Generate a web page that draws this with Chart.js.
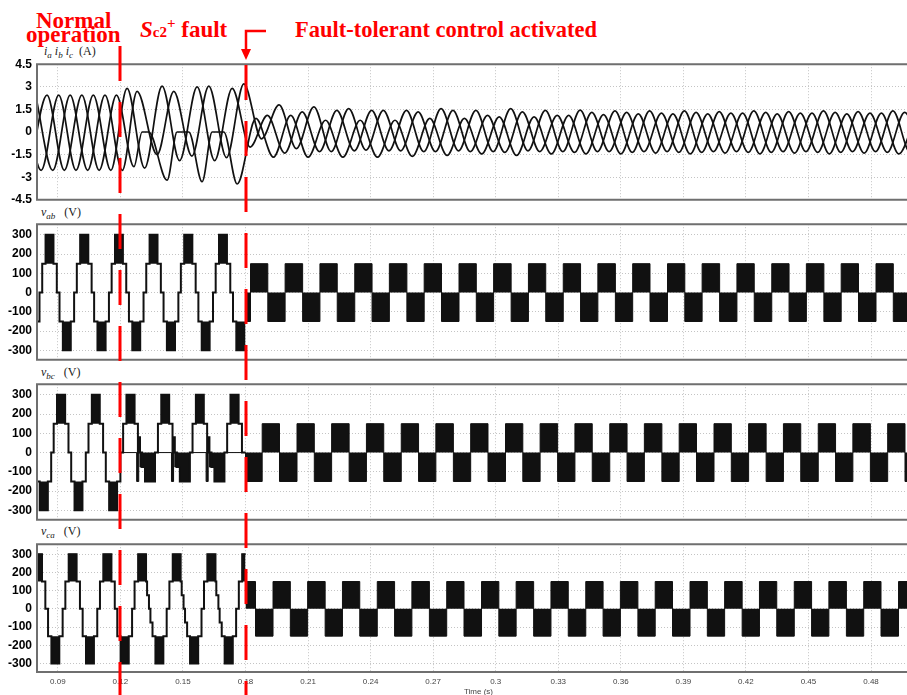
<!DOCTYPE html>
<html>
<head>
<meta charset="utf-8">
<script src="https://cdn.jsdelivr.net/npm/chart.js@4.4.1/dist/chart.umd.min.js"></script>
<style>
html, body { margin: 0; padding: 0; overflow: hidden; background: #fff; }
body { width: 907px; height: 695px; position: relative; }
.panel { position: absolute; left: 0; }
.red { position: absolute; color: #ff0000; font-family: "Liberation Serif", serif; font-weight: bold; white-space: nowrap; }
.ttl { position: absolute; font-family: "Liberation Serif", serif; font-size: 12px; color: #222; white-space: nowrap; line-height: 12px; }
.ttl span.s { font-size: 9px; position: relative; top: 3px; }
#overlay { position: absolute; left: 0; top: 0; pointer-events: none; }
</style>
</head>
<body>

<div class="red" style="left:36px;top:9px;font-size:23px;line-height:23px">Normal</div>
<div class="red" style="left:26px;top:23px;font-size:23px;line-height:23px">operation</div>
<div class="red" style="left:140px;top:18px;font-size:23px;line-height:23px"><i>S</i><span style="font-size:15px">c2</span><span style="font-size:15px;position:relative;top:-9px">+</span> fault</div>
<div class="red" style="left:295px;top:19px;font-size:22.5px;line-height:22.5px">Fault-tolerant control activated</div>

<div class="ttl" style="left:44px;top:45px"><i>i<span class="s">a</span> i<span class="s">b</span> i<span class="s">c</span></i>&nbsp; (A)</div>
<div class="ttl" style="left:41px;top:206px"><i>v<span class="s">ab</span></i>&nbsp;&nbsp; (V)</div>
<div class="ttl" style="left:41px;top:366px"><i>v<span class="s">bc</span></i>&nbsp;&nbsp; (V)</div>
<div class="ttl" style="left:41px;top:525px"><i>v<span class="s">ca</span></i>&nbsp;&nbsp; (V)</div>

<div class="panel" style="top:52px"><canvas id="cI" width="920" height="160"></canvas></div>
<div class="panel" style="top:212px"><canvas id="cAB" width="920" height="160"></canvas></div>
<div class="panel" style="top:372px"><canvas id="cBC" width="920" height="160"></canvas></div>
<div class="panel" style="top:532px"><canvas id="cCA" width="920" height="165"></canvas></div>
<canvas id="overlay" width="907" height="695"></canvas>

<script>
// time axis
const timeTicks = [0.09, 0.12, 0.15, 0.18, 0.21, 0.24, 0.27, 0.30, 0.33, 0.36, 0.39, 0.42, 0.45, 0.48];
const timeLabels = ["0.09", "0.12", "0.15", "0.18", "0.21", "0.24", "0.27", "0.3", "0.33", "0.36", "0.39", "0.42", "0.45", "0.48"];
const currentTicks = [-4.5, -3, -1.5, 0, 1.5, 3, 4.5];
const voltTicks = [-300, -200, -100, 0, 100, 200, 300];
const faultTimes = [0.12, 0.18];

// phase currents: turning points (s, A)
const iaT = [0.0765,0.0848,0.0931,0.1015,0.1098,0.1181,0.1265,0.1304,0.1336,0.1424,0.1472,0.1528,0.1592,0.1640,0.1696,0.1760,
  0.1850,0.1934,0.2017,0.2100,0.2184,0.2267,0.2350,0.2433,0.2517,0.2600,0.2684,0.2767,0.2850,0.2933,0.3017,0.3100,0.3184,0.3267,0.3350,0.3433,
  0.3517,0.3600,0.3684,0.3767,0.3850,0.3933,0.4017,0.4100,0.4184,0.4267,0.4350,0.4433,0.4517,0.4600,0.4684,0.4767,0.4850,0.4933,0.5017];
const iaV = [-2.55,2.45,-2.55,2.45,-2.55,2.45,-2.3,0,0,-3.2,0,0,-3.3,0,0,-3.45,
  0.9,-1.67,1.1,-1.67,0.78,-1.67,0.78,-1.67,0.78,-1.62,0.9,-1.55,0.9,-1.45,1.0,-1.55,1.0,-1.45,1.1,-1.45,
  1.15,-1.45,1.2,-1.4,1.2,-1.45,1.2,-1.4,1.25,-1.45,1.2,-1.4,1.25,-1.45,1.2,-1.4,1.25,-1.45,1.2];

const ibT = [0.0737,0.0820,0.0904,0.0987,0.1070,0.1154,0.1232,0.1316,0.1400,0.1484,0.1568,0.1652,0.1736,
  0.1822,0.1905,0.1988,0.2072,0.2155,0.2238,0.2322,0.2405,0.2488,0.2572,0.2655,0.2738,0.2822,0.2905,0.2988,0.3072,0.3155,0.3238,0.3322,0.3405,
  0.3488,0.3572,0.3655,0.3738,0.3822,0.3905,0.3988,0.4072,0.4155,0.4238,0.4322,0.4405,0.4488,0.4572,0.4655,0.4738,0.4822,0.4905,0.4988,0.5072];
const ibV = [2.45,-2.55,2.45,-2.55,2.45,-2.55,2.9,-2.4,3.05,-1.9,3.0,-1.9,2.9,
  -1.0,1.1,-1.4,1.33,-1.3,1.44,-1.25,1.44,-1.25,1.44,-1.3,1.55,-1.25,1.44,-1.3,1.55,-1.25,1.44,-1.3,1.45,
  -1.3,1.4,-1.35,1.4,-1.3,1.4,-1.35,1.35,-1.3,1.4,-1.35,1.35,-1.3,1.4,-1.35,1.35,-1.3,1.4,-1.35,1.35];

const icT = [0.0793,0.0876,0.0959,0.1043,0.1126,0.1209,0.1280,0.1376,0.1456,0.1543,0.1624,0.1709,0.1792,
  0.1877,0.1961,0.2044,0.2128,0.2211,0.2295,0.2378,0.2461,0.2544,0.2628,0.2711,0.2795,0.2878,0.2961,0.3044,0.3128,0.3211,0.3295,0.3378,0.3461,
  0.3544,0.3628,0.3711,0.3795,0.3878,0.3961,0.4044,0.4128,0.4211,0.4295,0.4378,0.4461,0.4544,0.4628,0.4711,0.4795,0.4878,0.4961,0.5044];
const icV = [2.45,-2.55,2.45,-2.55,2.45,-2.55,2.7,-1.5,2.7,-1.6,3.05,-1.7,3.2,
  -0.45,1.8,-1.1,1.67,-1.3,1.55,-1.2,1.44,-1.25,1.33,-1.3,1.44,-1.3,1.1,-1.35,1.33,-1.3,1.1,-1.35,1.3,
  -1.3,1.3,-1.3,1.25,-1.35,1.3,-1.3,1.25,-1.35,1.3,-1.3,1.25,-1.35,1.3,-1.3,1.25,-1.35,1.3,-1.3];

// line voltages, staircase before 0.18 s: switching instants (s) and level after each (V)
const vabStepT = [0.0800,0.0812,0.0825,0.0841,0.0879,0.0895,0.0908,0.0924,0.0962,0.0978,
  0.0991,0.1007,0.1046,0.1062,0.1074,0.1090,0.1129,0.1145,
  0.1158,0.1174,0.1212,0.1228,0.1241,0.1257,0.1295,0.1311,
  0.1324,0.1340,0.1378,0.1394,0.1407,0.1423,0.1462,0.1478,
  0.1490,0.1506,0.1545,0.1561,0.1574,0.1590,0.1628,0.1644,
  0.1657,0.1673,0.1711,0.1727,0.1740,0.1756,0.1800];
const vabStepV = [-150,0,150,300,150,0,-150,-300,-150,0,
  150,300,150,0,-150,-300,-150,0,
  150,300,150,0,-150,-300,-150,0,
  150,300,150,0,-150,-300,-150,0,
  150,300,150,0,-150,-300,-150,0,
  150,300,150,0,-150,-300,-300];

const vbcStepT = [0.0800,0.0813,0.0852,0.0868,
  0.0880,0.0896,0.0935,0.0951,0.0964,0.0980,0.1018,0.1034,
  0.1047,0.1063,0.1101,0.1117,0.1130,0.1146,0.1184,0.1200,
  0.1213,0.1229,0.1268,0.1284,0.1290,0.1294,0.1304,0.1318,0.1366,
  0.1380,0.1396,0.1434,0.1450,0.1457,0.1461,0.1471,0.1485,0.1533,
  0.1546,0.1562,0.1600,0.1616,0.1623,0.1627,0.1637,0.1651,0.1699,
  0.1712,0.1728,0.1767,0.1783,0.1800];
const vbcStepV = [-150,-300,-150,0,
  150,300,150,0,-150,-300,-150,0,
  150,300,150,0,-150,-300,-150,0,
  150,300,150,0,80,0,-75,-150,0,
  150,300,150,0,80,0,-75,-150,0,
  150,300,150,0,80,0,-75,-150,0,
  150,300,150,0,0];

const vcaStepT = [0.0800,0.0824,0.0840,0.0853,0.0869,0.0907,0.0923,
  0.0936,0.0952,0.0990,0.1006,0.1019,0.1035,0.1073,0.1089,
  0.1102,0.1118,0.1157,0.1173,0.1185,0.1201,0.1240,0.1256,
  0.1268,0.1285,0.1323,0.1328,0.1337,0.1344,0.1354,0.1368,0.1406,0.1422,
  0.1435,0.1451,0.1489,0.1494,0.1503,0.1510,0.1520,0.1534,0.1573,0.1589,
  0.1601,0.1617,0.1656,0.1660,0.1670,0.1676,0.1686,0.1700,0.1739,0.1755,
  0.1768,0.1784,0.1800];
const vcaStepV = [300,150,0,-150,-300,-150,0,
  150,300,150,0,-150,-300,-150,0,
  150,300,150,0,-150,-300,-150,0,
  150,300,150,75,0,-75,-150,-300,-150,0,
  150,300,150,75,0,-75,-150,-300,-150,0,
  150,300,150,75,0,-75,-150,-300,-150,0,
  150,300,300];

// dense PWM regions, envelope measured from 0 V
const vabPwmT = [0.1800,0.1824,0.1907,0.1990,0.2074,0.2157,0.2240,0.2324,0.2407,0.2490,0.2574,0.2657,0.2740,0.2824,0.2907,0.2990,0.3074,0.3157,0.3240,0.3324,
  0.3407,0.3490,0.3574,0.3657,0.3740,0.3824,0.3907,0.3990,0.4074,0.4157,0.4240,0.4324,0.4407,0.4490,0.4574,0.4657,0.4740,0.4824,0.4907,0.5035];
const vabPwmV = [-150,150,-150,150,-150,150,-150,150,-150,150,-150,150,-150,150,-150,150,-150,150,-150,150,
  -150,150,-150,150,-150,150,-150,150,-150,150,-150,150,-150,150,-150,150,-150,150,-150,-150];

const vbcPwmT = [0.1200,0.1278,0.1288,0.1294,0.1318,0.1366,0.1445,0.1455,0.1461,0.1485,0.1533,0.1611,0.1621,0.1627,0.1651,0.1699,0.1800,
  0.1880,0.1963,0.2047,0.2130,0.2213,0.2297,0.2380,0.2463,0.2547,0.2630,0.2713,0.2797,0.2880,0.2963,0.3047,0.3130,0.3213,0.3297,0.3380,
  0.3463,0.3547,0.3630,0.3713,0.3797,0.3880,0.3963,0.4047,0.4130,0.4213,0.4297,0.4380,0.4463,0.4547,0.4630,0.4713,0.4797,0.4880,0.4963,0.5035];
const vbcPwmV = [0,-150,0,-75,-150,0,-150,0,-75,-150,0,-150,0,-75,-150,0,-150,
  150,-150,150,-150,150,-150,150,-150,150,-150,150,-150,150,-150,150,-150,150,-150,150,
  -150,150,-150,150,-150,150,-150,150,-150,150,-150,150,-150,150,-150,150,-150,150,-150,-150];

const vcaPwmT = [0.1800,0.1848,0.1932,0.2015,0.2098,0.2182,0.2265,0.2348,0.2432,0.2515,0.2598,0.2682,0.2765,0.2848,0.2932,0.3015,0.3098,0.3182,0.3265,0.3348,
  0.3432,0.3515,0.3598,0.3682,0.3765,0.3848,0.3932,0.4015,0.4098,0.4182,0.4265,0.4348,0.4432,0.4515,0.4598,0.4682,0.4765,0.4848,0.4932,0.5035];
const vcaPwmV = [150,-150,150,-150,150,-150,150,-150,150,-150,150,-150,150,-150,150,-150,150,-150,150,-150,
  150,-150,150,-150,150,-150,150,-150,150,-150,150,-150,150,-150,150,-150,150,-150,150,150];

Chart.defaults.font.family = "'Liberation Sans', Arial, sans-serif";
Chart.defaults.animation = false;

const GRID = "#c4c4c4";
const INK = "#111111";

function pts(T, V) {
  return T.map(function(t, i) { return {x: t, y: V[i]}; });
}

// pieces of the staircase sitting at +/-300 V
function peakBlocks(T, V, level) {
  const out = [];
  for (let i = 0; i < T.length - 1; i++) {
    if (V[i] === level) {
      out.push({x: T[i], y: level}, {x: T[i + 1], y: level}, {x: T[i + 1], y: null});
    }
  }
  return out;
}

const frame = {
  id: "frame",
  afterDatasetsDraw(chart) {
    const ctx = chart.ctx, a = chart.chartArea;
    ctx.save();
    ctx.strokeStyle = "#6f6f6f";
    ctx.lineWidth = 2;
    ctx.beginPath();
    ctx.moveTo(a.left, a.top); ctx.lineTo(a.right, a.top);
    ctx.moveTo(a.left, a.bottom); ctx.lineTo(a.right, a.bottom);
    ctx.moveTo(a.left, a.top - 1); ctx.lineTo(a.left, a.bottom + 1);
    ctx.stroke();
    ctx.restore();
  }
};

function scales(yMin, yMax, yTicks, showTime) {
  return {
    x: {
      type: "linear", min: 0.08, max: 0.5035,
      afterBuildTicks: function(s) { s.ticks = timeTicks.map(function(v) { return {value: v}; }); },
      afterFit: function(s) { s.height = showTime ? 25 : 0; },
      grid: {color: GRID, lineWidth: 1, drawTicks: false},
      border: {display: false, dash: [1, 2]},
      ticks: {
        display: showTime, autoSkip: false, maxRotation: 0, padding: 5,
        color: "#444", font: {size: 8},
        callback: function(v) { const k = timeTicks.indexOf(v); return k >= 0 ? timeLabels[k] : ""; }
      },
      title: {display: showTime, text: "Time (s)", color: "#444", font: {size: 8}, padding: 0}
    },
    y: {
      min: yMin, max: yMax,
      afterBuildTicks: function(s) { s.ticks = yTicks.map(function(v) { return {value: v}; }); },
      afterFit: function(s) { s.width = 37; },
      grid: {color: GRID, lineWidth: 1, drawTicks: false},
      border: {display: false, dash: [1, 2]},
      ticks: {color: "#000", padding: 5, font: {size: 12, weight: "bold"}}
    }
  };
}

function baseOptions(yMin, yMax, yTicks, showTime) {
  return {
    responsive: false,
    animation: false,
    events: [],
    layout: {padding: {top: 10, bottom: showTime ? 0 : 10, left: 0, right: 0}},
    plugins: {legend: {display: false}, tooltip: {enabled: false}},
    elements: {point: {radius: 0}},
    scales: scales(yMin, yMax, yTicks, showTime)
  };
}

function currentLine(T, V) {
  return {
    data: pts(T, V), borderColor: INK, borderWidth: 1.7,
    cubicInterpolationMode: "monotone", fill: false
  };
}

new Chart(document.getElementById("cI"), {
  type: "line",
  data: {datasets: [currentLine(iaT, iaV), currentLine(ibT, ibV), currentLine(icT, icV)]},
  options: baseOptions(-4.5, 4.5, currentTicks, false),
  plugins: [frame]
});

function voltageChart(id, stepT, stepV, pwmT, pwmV, yMin, yMax, showTime) {
  return new Chart(document.getElementById(id), {
    type: "line",
    data: {
      datasets: [
        {data: pts(stepT, stepV), stepped: true, borderColor: INK, borderWidth: 2, fill: false},
        {data: peakBlocks(stepT, stepV, 300), borderColor: INK, borderWidth: 1, backgroundColor: INK, fill: {value: 150}},
        {data: peakBlocks(stepT, stepV, -300), borderColor: INK, borderWidth: 1, backgroundColor: INK, fill: {value: -150}},
        {data: pts(pwmT, pwmV), stepped: true, borderColor: INK, borderWidth: 1, backgroundColor: INK, fill: "origin"}
      ]
    },
    options: baseOptions(yMin, yMax, voltTicks, showTime),
    plugins: [frame]
  });
}

const chartAB = voltageChart("cAB", vabStepT, vabStepV, vabPwmT, vabPwmV, -349, 355, false);
voltageChart("cBC", vbcStepT, vbcStepV, vbcPwmT, vbcPwmV, -349, 355, false);
voltageChart("cCA", vcaStepT, vcaStepV, vcaPwmT, vcaPwmV, -347, 355, true);

// red fault markers across all panels
const ov = document.getElementById("overlay").getContext("2d");
const xs = chartAB.scales.x;
const x12 = Math.round(xs.getPixelForValue(faultTimes[0]));
const x18 = Math.round(xs.getPixelForValue(faultTimes[1]));
ov.strokeStyle = "#ff0000";
ov.fillStyle = "#ff0000";
ov.lineWidth = 3;
ov.setLineDash([35, 21]);
ov.beginPath();
ov.moveTo(x12, 46); ov.lineTo(x12, 695);
ov.stroke();
ov.beginPath();
ov.moveTo(x18, 65); ov.lineTo(x18, 695);
ov.stroke();
ov.setLineDash([]);
ov.lineWidth = 2.5;
ov.beginPath();
ov.moveTo(x18 + 20, 31); ov.lineTo(x18, 31); ov.lineTo(x18, 50);
ov.stroke();
ov.beginPath();
ov.moveTo(x18 - 5, 49); ov.lineTo(x18 + 5, 49); ov.lineTo(x18, 60);
ov.closePath();
ov.fill();
</script>
</body>
</html>
